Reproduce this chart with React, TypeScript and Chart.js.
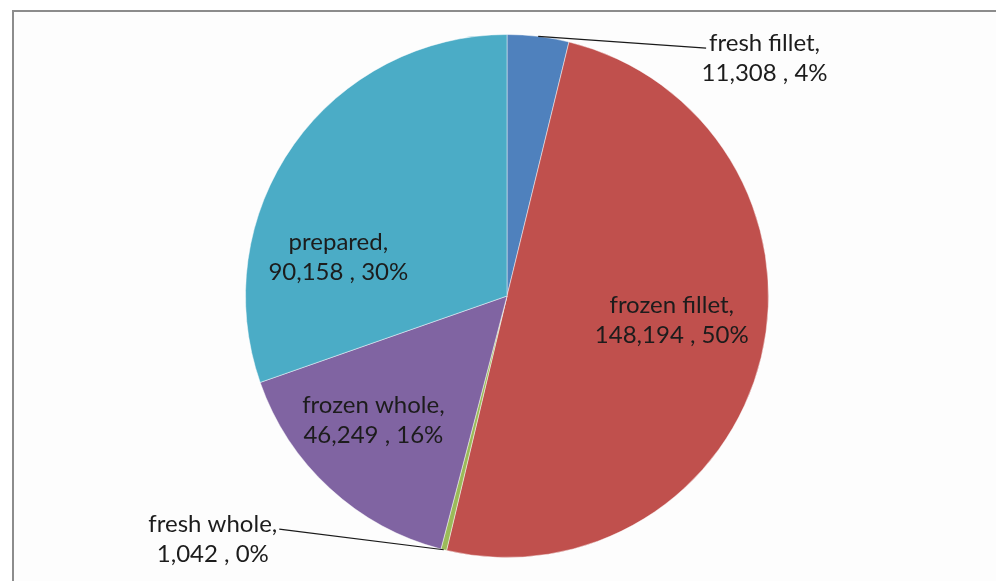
import React, { useEffect, useRef } from "react";
import { Chart, registerables } from "chart.js";

Chart.register(...registerables);

const categories = ["fresh fillet", "frozen fillet", "fresh whole", "frozen whole", "prepared"];
const values = [11308, 148194, 1042, 46249, 90158];
const percentLabels = ["4%", "50%", "0%", "16%", "30%"];
const valueLabels = ["11,308", "148,194", "1,042", "46,249", "90,158"];
const colors = ["#4F81BD", "#C0504D", "#9BBB59", "#8064A2", "#4BACC6"];

// label placement relative to pie center, in units of radius
const labelOffsets: [number, number][] = [
  [0.985, -0.91],
  [0.63, 0.092],
  [-1.125, 0.93],
  [-0.511, 0.477],
  [-0.645, -0.149],
];
const hasLeader = [true, false, true, false, false];

const FONT = "24px Lato";

const labelPlugin = {
  id: "pieLabels",
  afterDatasetsDraw(chart: any) {
    const ctx = chart.ctx;
    const meta = chart.getDatasetMeta(0);
    ctx.save();
    ctx.font = FONT;
    ctx.textAlign = "center";
    ctx.textBaseline = "middle";
    meta.data.forEach((arc: any, i: number) => {
      const p = arc.getProps(["x", "y", "outerRadius", "startAngle", "endAngle"], true);
      const r = p.outerRadius;
      const cx = p.x + labelOffsets[i][0] * r;
      const cy = p.y + labelOffsets[i][1] * r;
      const line1 = categories[i] + ",";
      const line2 = valueLabels[i] + " , " + percentLabels[i];
      const lh = 30;
      if (hasLeader[i]) {
        const mid = (p.startAngle + p.endAngle) / 2;
        const ex = p.x + Math.cos(mid) * r;
        const ey = p.y + Math.sin(mid) * r;
        const w1 = ctx.measureText(line1).width;
        const tx = cx < p.x ? cx + w1 / 2 + 2 : cx - w1 / 2 - 3;
        const ty = cy - lh / 2 + 5;
        ctx.strokeStyle = "#1a1a1a";
        ctx.lineWidth = 1.2;
        ctx.beginPath();
        ctx.moveTo(ex, ey);
        ctx.lineTo(tx, ty);
        ctx.stroke();
      }
      ctx.fillStyle = "#1c1c1c";
      ctx.fillText(line1, cx, cy - lh / 2);
      ctx.fillText(line2, cx, cy + lh / 2);
    });
    ctx.restore();
  },
};

export default function App() {
  const ref = useRef<HTMLCanvasElement | null>(null);
  useEffect(() => {
    if (!ref.current) return;
    const chart = new Chart(ref.current, {
      type: "pie",
      data: {
        labels: categories,
        datasets: [
          {
            data: values,
            backgroundColor: colors,
            borderColor: "rgba(255,255,255,0.45)",
            borderWidth: 1,
          },
        ],
      },
      options: {
        animation: false,
        responsive: false,
        layout: { padding: { top: 34, bottom: 23, left: 245, right: 227 } },
        plugins: {
          legend: { display: false },
          tooltip: { enabled: false },
          title: { display: false },
        },
      },
      plugins: [labelPlugin],
    });
    return () => chart.destroy();
  }, []);
  return (
    <div style={{ position: "absolute", left: 0, top: 0, width: 996, height: 581, background: "#fff", overflow: "hidden" }}>
      <div
        style={{
          position: "absolute",
          left: 12,
          top: 10,
          width: 996,
          height: 600,
          borderTop: "2px solid #8c8c8c",
          borderLeft: "2px solid #8c8c8c",
          background: "#fdfdfd",
        }}
      />
      <canvas ref={ref} width={996} height={581} style={{ position: "absolute", left: 0, top: 0 }} />
    </div>
  );
}
